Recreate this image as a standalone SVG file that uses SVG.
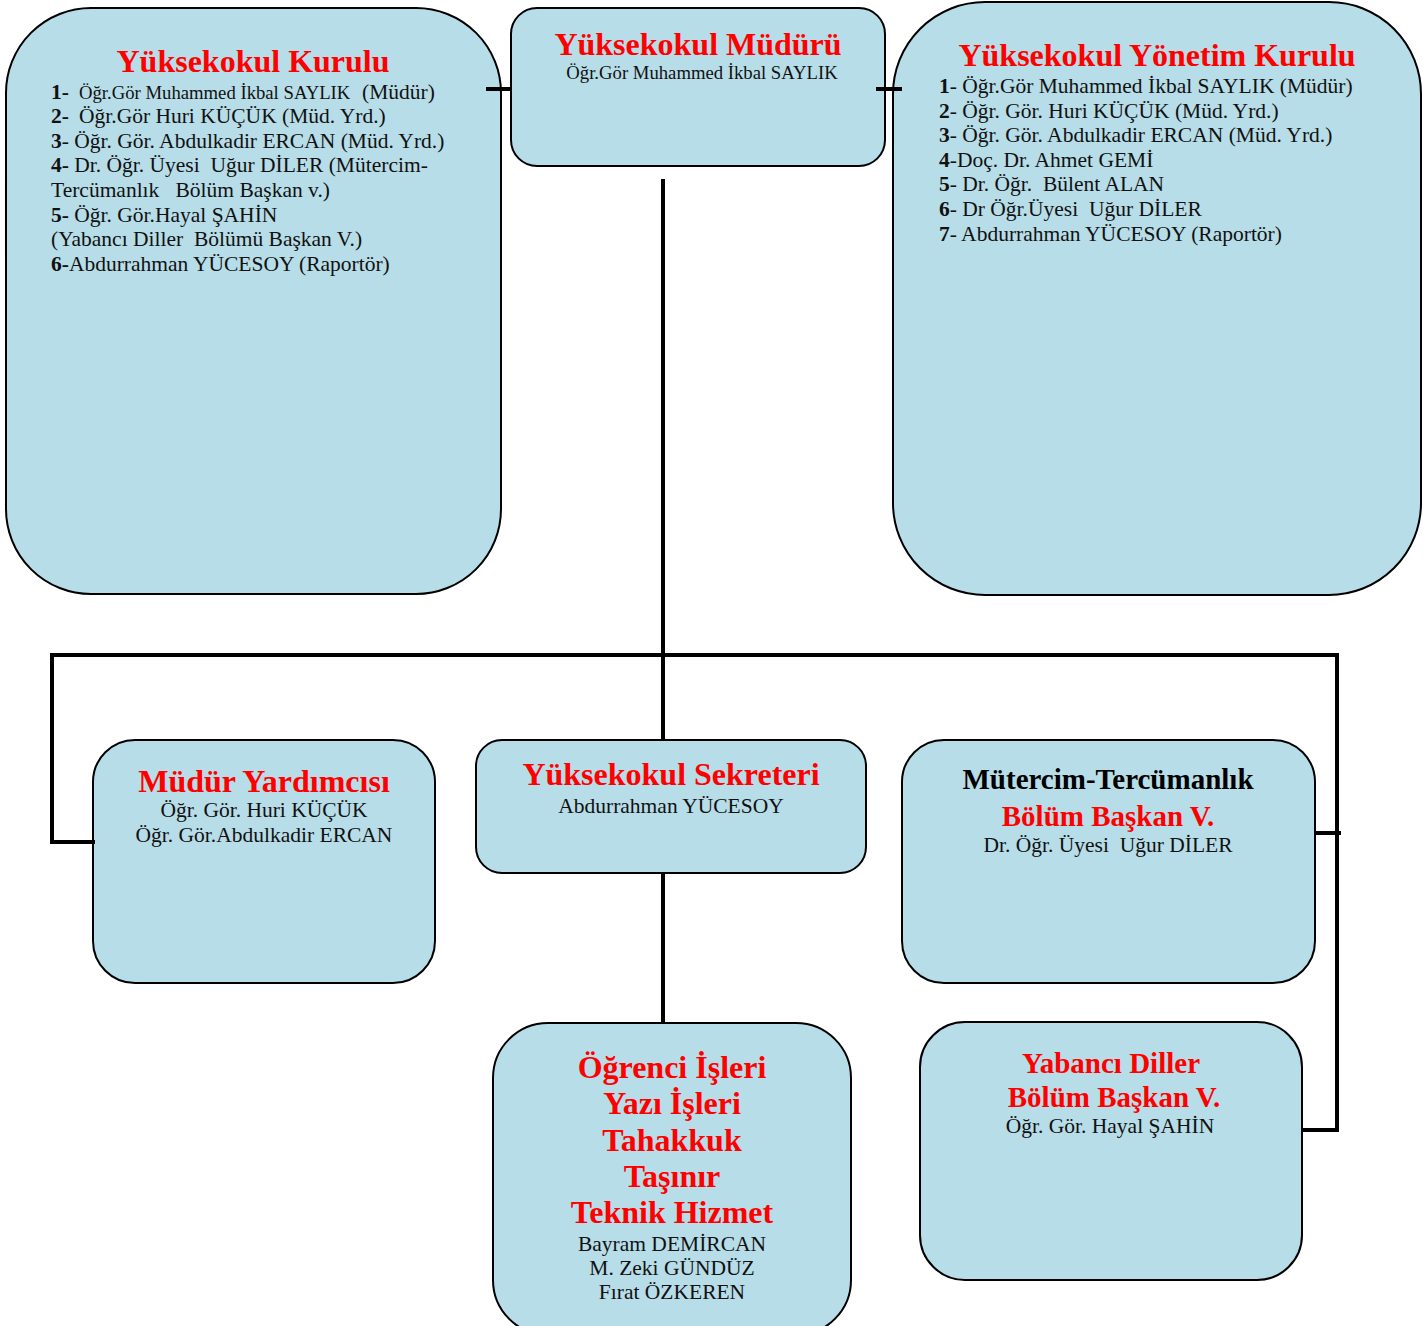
<svg xmlns="http://www.w3.org/2000/svg" width="1423" height="1326" viewBox="0 0 1423 1326">
<style>
.box{fill:#b7dde8;stroke:#000;stroke-width:2}
.con{fill:none;stroke:#000;stroke-width:4;stroke-linecap:square}
text{font-family:"Liberation Serif","Times New Roman",serif;fill:#111;white-space:pre}
.t{font-weight:bold;fill:#ff0000;font-size:32px}
.tb{font-weight:bold;fill:#000;font-size:29px}
.r29{font-weight:bold;fill:#ff0000;font-size:29px}
.b{font-size:21.5px}
.s{font-size:18.7px}
.n{font-weight:bold}
.c{text-anchor:middle}
</style>
<rect width="1423" height="1326" fill="#fff"/>
<g id="kurulu">
<rect class="box" x="6" y="8" width="495" height="586" rx="85" ry="85"/>
<text class="t c" x="253" y="72">Yüksekokul Kurulu</text>
<text class="b" y="99"><tspan class="n" x="51">1-</tspan><tspan class="s" x="79">Öğr.Gör Muhammed İkbal SAYLIK</tspan><tspan x="362">(Müdür)</tspan></text>
<text class="b" y="123"><tspan class="n" x="51">2-</tspan><tspan x="79">Öğr.Gör Huri KÜÇÜK (Müd. Yrd.)</tspan></text>
<text class="b" x="51" y="148"><tspan class="n">3</tspan>- Öğr. Gör. Abdulkadir ERCAN (Müd. Yrd.)</text>
<text class="b" x="51" y="172"><tspan class="n">4-</tspan> Dr. Öğr. Üyesi  Uğur DİLER (Mütercim-</text>
<text class="b" x="51" y="197">Tercümanlık   Bölüm Başkan v.)</text>
<text class="b" x="51" y="222"><tspan class="n">5-</tspan> Öğr. Gör.Hayal ŞAHİN</text>
<text class="b" x="51" y="246">(Yabancı Diller  Bölümü Başkan V.)</text>
<text class="b" x="51" y="271"><tspan class="n">6-</tspan>Abdurrahman YÜCESOY (Raportör)</text>
</g>
<g id="mudur">
<rect class="box" x="511" y="8" width="374" height="158" rx="26" ry="26"/>
<text class="t c" x="698" y="55">Yüksekokul Müdürü</text>
<text class="s c" x="702" y="79">Öğr.Gör Muhammed İkbal SAYLIK</text>
</g>
<g id="yonetim">
<rect class="box" x="893" y="2" width="528" height="593" rx="92" ry="92"/>
<text class="t c" x="1157" y="66">Yüksekokul Yönetim Kurulu</text>
<text class="b" x="939" y="93"><tspan class="n">1</tspan>- Öğr.Gör Muhammed İkbal SAYLIK (Müdür)</text>
<text class="b" x="939" y="118"><tspan class="n">2</tspan>- Öğr. Gör. Huri KÜÇÜK (Müd. Yrd.)</text>
<text class="b" x="939" y="142"><tspan class="n">3</tspan>- Öğr. Gör. Abdulkadir ERCAN (Müd. Yrd.)</text>
<text class="b" x="939" y="167"><tspan class="n">4</tspan>-Doç. Dr. Ahmet GEMİ</text>
<text class="b" x="939" y="191"><tspan class="n">5</tspan>- Dr. Öğr.  Bülent ALAN</text>
<text class="b" x="939" y="216"><tspan class="n">6</tspan>- Dr Öğr.Üyesi  Uğur DİLER</text>
<text class="b" x="939" y="241"><tspan class="n">7</tspan>- Abdurrahman YÜCESOY (Raportör)</text>
</g>
<g id="yardimci">
<rect class="box" x="93" y="740" width="342" height="243" rx="42" ry="42"/>
<text class="t c" x="264" y="792">Müdür Yardımcısı</text>
<text class="b c" x="264" y="817">Öğr. Gör. Huri KÜÇÜK</text>
<text class="b c" x="264" y="842">Öğr. Gör.Abdulkadir ERCAN</text>
</g>
<g id="sekreter">
<rect class="box" x="476" y="740" width="390" height="133" rx="26" ry="26"/>
<text class="t c" x="671" y="785">Yüksekokul Sekreteri</text>
<text class="b c" x="671" y="813">Abdurrahman YÜCESOY</text>
</g>
<g id="mutercim">
<rect class="box" x="902" y="740" width="413" height="243" rx="42" ry="42"/>
<text class="tb c" x="1108" y="789">Mütercim-Tercümanlık</text>
<text class="r29 c" x="1108" y="826">Bölüm Başkan V.</text>
<text class="b c" x="1108" y="852">Dr. Öğr. Üyesi  Uğur DİLER</text>
</g>
<g id="ogrenci">
<rect class="box" x="493" y="1023" width="358" height="312" rx="55" ry="55"/>
<text class="t c" x="672" y="1078">Öğrenci İşleri</text>
<text class="t c" x="672" y="1114">Yazı İşleri</text>
<text class="t c" x="672" y="1151">Tahakkuk</text>
<text class="t c" x="672" y="1187">Taşınır</text>
<text class="t c" x="672" y="1223">Teknik Hizmet</text>
<text class="b c" x="672" y="1251">Bayram DEMİRCAN</text>
<text class="b c" x="672" y="1275">M. Zeki GÜNDÜZ</text>
<text class="b c" x="672" y="1299">Fırat ÖZKEREN</text>
</g>
<g id="yabanci">
<rect class="box" x="920" y="1022" width="382" height="258" rx="45" ry="45"/>
<text class="r29 c" x="1111" y="1073">Yabancı Diller</text>
<text class="r29 c" x="1114" y="1107">Bölüm Başkan V.</text>
<text class="b c" x="1110" y="1133">Öğr. Gör. Hayal ŞAHİN</text>
</g>
<g id="connectors">
<line class="con" x1="488" y1="89" x2="509" y2="89"/>
<line class="con" x1="878" y1="89" x2="900" y2="89"/>
<line class="con" x1="663" y1="181" x2="663" y2="739"/>
<polyline class="con" points="93,842 52,842 52,655 1337,655 1337,1130 1303,1130"/>
<line class="con" x1="1316" y1="833" x2="1339" y2="833"/>
<line class="con" x1="663" y1="874" x2="663" y2="1022"/>
</g>
</svg>
